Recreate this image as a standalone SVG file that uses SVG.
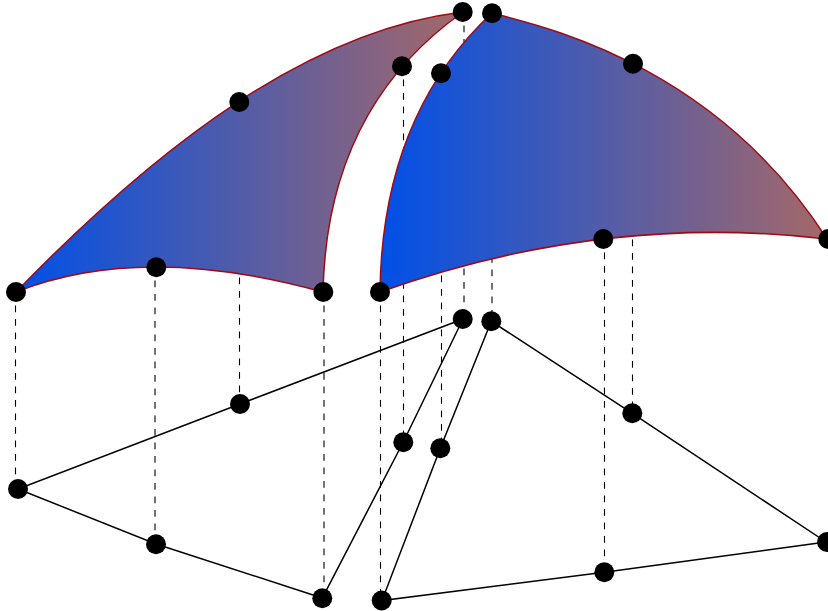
<svg xmlns="http://www.w3.org/2000/svg" width="828" height="611" viewBox="0 0 828 611">
<style>
.dash{stroke:#000;stroke-width:1.1;stroke-dasharray:6.75 6.75;fill:none}
.edge{stroke:#000;stroke-width:1.5;fill:none}
.patch{stroke:#a00a14;stroke-width:1.5}
.node{fill:#000}
</style>
<defs>
<linearGradient id="g" x1="0" y1="0" x2="1" y2="0"><stop offset="0" stop-color="#0050e8"/><stop offset="1" stop-color="#a56868"/></linearGradient>
</defs>
<rect width="828" height="611" fill="#fff"/>
<g id="connectors">
<path class="dash" d="M15.500 292V489M155 267V544M239.500 102V404M324 292V598M380.500 292V600M403.500 66V442M441.500 73V448M464 12V319M492 13V321M604.500 239V572M632.500 64V413"/>
<path class="edge" d="M463 319L240 404L18 489L156 544L322.300 598L403.300 442L463 319"/>
<path class="edge" d="M491.300 321.300L632.300 413.300L826 542L604.300 572.300L382 600.500L440.300 448.300L491.300 321.300"/>
</g>
<g id="patch-left"><path class="patch" fill="url(#g)" d="M16 292Q142.500 242 323 292Q327 108 463 12C313.300 29.700 164.300 139 16 292Z"/></g>
<g id="patch-right"><path class="patch" fill="url(#g)" d="M380 292Q602.500 212.500 827 239C712 60 535 25 492 13Q382 115.600 380 292Z"/></g>
<g id="n1"><circle class="node" cx="16" cy="292" r="10"/></g>
<g id="n2"><circle class="node" cx="156.300" cy="267.300" r="10"/></g>
<g id="n3"><circle class="node" cx="323.300" cy="292" r="10"/></g>
<g id="n4"><circle class="node" cx="239.300" cy="102" r="10"/></g>
<g id="n5"><circle class="node" cx="402" cy="66.300" r="10"/></g>
<g id="n6"><circle class="node" cx="462.700" cy="12" r="10"/></g>
<g id="n7"><circle class="node" cx="380" cy="292" r="10"/></g>
<g id="n8"><circle class="node" cx="603.300" cy="239" r="10"/></g>
<g id="n9"><circle class="node" cx="828.300" cy="239" r="10"/></g>
<g id="n10"><circle class="node" cx="492" cy="13.300" r="10"/></g>
<g id="n11"><circle class="node" cx="441" cy="73.300" r="10"/></g>
<g id="n12"><circle class="node" cx="633" cy="63.700" r="10"/></g>
<g id="n13"><circle class="node" cx="18" cy="489" r="10"/></g>
<g id="n14"><circle class="node" cx="156" cy="544.300" r="10"/></g>
<g id="n15"><circle class="node" cx="322.300" cy="598.300" r="10"/></g>
<g id="n16"><circle class="node" cx="240" cy="404" r="10"/></g>
<g id="n17"><circle class="node" cx="403.300" cy="442.300" r="10"/></g>
<g id="n18"><circle class="node" cx="462.700" cy="319" r="10"/></g>
<g id="n19"><circle class="node" cx="381.700" cy="600.500" r="10"/></g>
<g id="n20"><circle class="node" cx="604.300" cy="572.300" r="10"/></g>
<g id="n21"><circle class="node" cx="827" cy="542" r="10"/></g>
<g id="n22"><circle class="node" cx="491.300" cy="321.300" r="10"/></g>
<g id="n23"><circle class="node" cx="440.300" cy="448.300" r="10"/></g>
<g id="n24"><circle class="node" cx="632.300" cy="413.300" r="10"/></g>
</svg>
